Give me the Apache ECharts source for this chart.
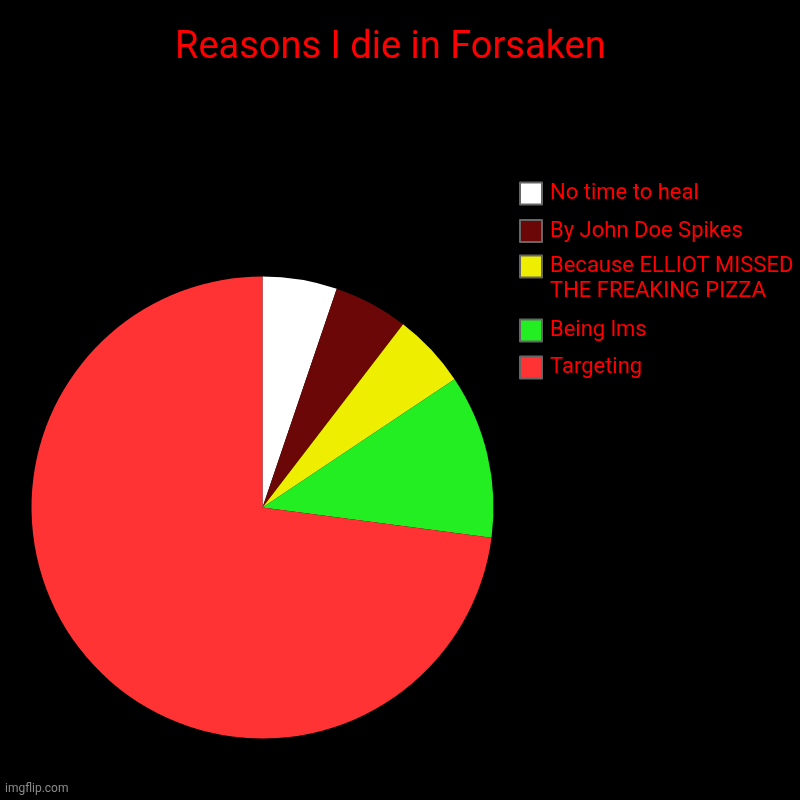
<!DOCTYPE html>
<html>
<head>
<meta charset="utf-8">
<script src="https://cdn.jsdelivr.net/npm/echarts@6/dist/echarts.min.js"></script>
<style>
html,body{margin:0;padding:0;background:#000;}
#chart{width:800px;height:800px;}
</style>
</head>
<body>
<div id="chart"></div>
<script>
const categories = [
  "No time to heal",
  "By John Doe Spikes",
  "Because ELLIOT MISSED\nTHE FREAKING PIZZA",
  "Being lms",
  "Targeting"
];
const values = [5, 5, 5, 11, 70];
const colors = ["#ffffff", "#6b0707", "#eeee00", "#22ee22", "#ff3333"];

const chart = echarts.init(document.getElementById('chart'));
const pieData = categories.map((c, i) => ({
  name: c,
  value: values[i],
  itemStyle: { color: colors[i] }
}));

function legendBlock(names, top, gap, prefix) {
  return {
    orient: 'vertical',
    left: 519,
    top: top,
    padding: 0,
    itemGap: gap,
    itemWidth: 22,
    itemHeight: 22,
    icon: 'rect',
    selectedMode: false,
    data: names,
    formatter: (name) => prefix + name,
    itemStyle: { borderColor: '#666666', borderWidth: 2 },
    textStyle: {
      color: '#ff0000',
      fontFamily: 'Roboto',
      fontSize: 22,
      lineHeight: 25,
      padding: [0, 0, 0, 3]
    }
  };
}

chart.setOption({
  backgroundColor: '#000000',
  animation: false,
  title: {
    text: 'Reasons I die in Forsaken',
    left: 175,
    top: 29,
    padding: 0,
    textStyle: {
      color: '#ff0000',
      fontFamily: 'Roboto',
      fontSize: 38,
      fontWeight: 'normal'
    }
  },
  legend: [
    legendBlock([categories[0], categories[1]], 181, 12.5, ''),
    legendBlock([categories[2]], 229, 0, '\n'),
    legendBlock([categories[3], categories[4]], 318, 12, '')
  ],
  graphic: [{
    type: 'text',
    left: 5,
    top: 783,
    style: {
      text: 'imgflip.com',
      fill: '#8a8a8a',
      font: '12px Roboto'
    }
  }],
  series: [{
    type: 'pie',
    center: [262.5, 507.5],
    radius: 231,
    startAngle: 90,
    clockwise: true,
    label: { show: false },
    labelLine: { show: false },
    emphasis: { disabled: true },
    itemStyle: { borderWidth: 0 },
    data: pieData
  }]
});
</script>
</body>
</html>
